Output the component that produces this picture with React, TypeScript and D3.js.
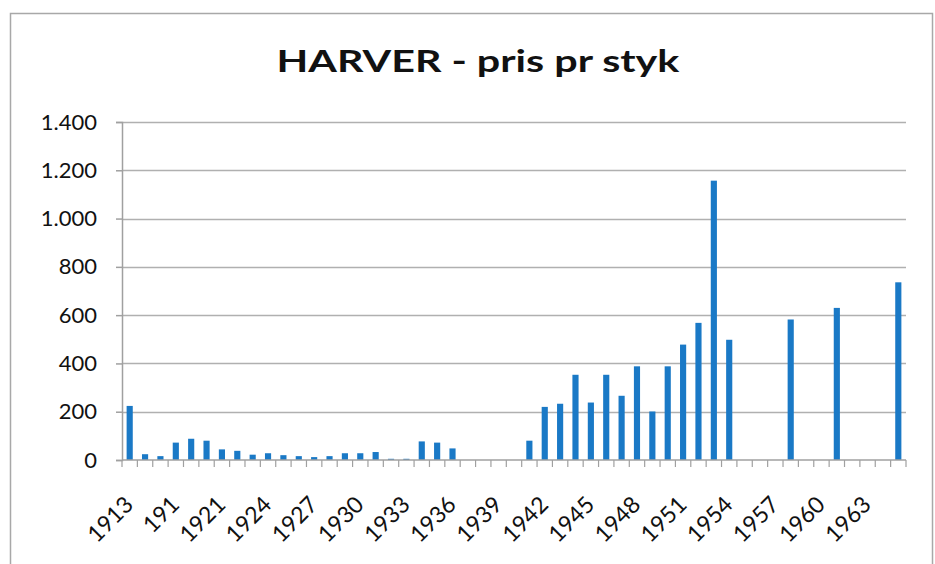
import React, { useEffect, useRef } from "react";
import * as d3 from "d3";

// categories as printed on the axis (only every 3rd label is shown)
const years = [
  "1913", "1914", "1916", "191", "1919", "1920", "1921", "1922", "1923", "1924",
  "1925", "1926", "1927", "1928", "1929", "1930", "1931", "1932", "1933", "1934",
  "1935", "1936", "1937", "1938", "1939", "1940", "1941", "1942", "1943", "1944",
  "1945", "1946", "1947", "1948", "1949", "1950", "1951", "1952", "1953", "1954",
  "1955", "1956", "1957", "1958", "1959", "1960", "1961", "1962", "1963", "1964",
  "1965",
];

// price per piece
const prices = [
  224, 24, 16, 72, 88, 80, 44, 38, 22, 28,
  20, 16, 12, 16, 28, 28, 33, 5, 5, 77,
  72, 48, 0, 0, 0, 0, 80, 220, 233, 353,
  238, 353, 266, 388, 201, 388, 478, 568, 1157, 498,
  0, 0, 0, 582, 0, 0, 630, 0, 0, 0,
  736,
];

const yTicks = [0, 200, 400, 600, 800, 1000, 1200, 1400];

const chartTitle = "HARVER - pris pr styk";

function App() {
  const svgRef = useRef<SVGSVGElement>(null);

  useEffect(() => {
    const svg = d3.select(svgRef.current);
    svg.selectAll("*").remove();

    const width = 935;
    const height = 564;
    const margin = { top: 122, right: 29, bottom: 104, left: 122 };
    const font = "Lato, 'Open Sans', sans-serif";

    // outer chart frame
    svg
      .append("rect")
      .attr("x", 10.5)
      .attr("y", 13.5)
      .attr("width", 922)
      .attr("height", 600)
      .attr("fill", "#fff")
      .attr("stroke", "#a8a8a8")
      .attr("stroke-width", 1.5);

    const x = d3
      .scaleBand()
      .domain(years)
      .range([margin.left, width - margin.right])
      .paddingInner(0.6)
      .paddingOuter(0.3);

    const y = d3
      .scaleLinear()
      .domain([0, 1400])
      .range([height - margin.bottom, margin.top]);

    const fmt = (v: number) => d3.format(",")(v).replace(/,/g, ".");

    // gridlines
    svg
      .append("g")
      .selectAll("line")
      .data(yTicks.slice(1))
      .join("line")
      .attr("x1", margin.left)
      .attr("x2", width - margin.right)
      .attr("y1", (d) => Math.round(y(d)) + 0.5)
      .attr("y2", (d) => Math.round(y(d)) + 0.5)
      .attr("stroke", "#b0b0b0")
      .attr("stroke-width", 1.5);

    // bars
    svg
      .append("g")
      .selectAll("rect")
      .data(prices)
      .join("rect")
      .attr("x", (d, i) => x(years[i])!)
      .attr("y", (d) => y(d))
      .attr("width", x.bandwidth())
      .attr("height", (d) => y(0) - y(d))
      .attr("fill", "#1a79c6");

    // y axis
    const yAxis = svg
      .append("g")
      .attr("transform", `translate(${margin.left},0)`)
      .call(d3.axisLeft(y).tickValues(yTicks).tickSize(6).tickFormat((d) => fmt(+d)));
    yAxis.select(".domain").attr("stroke", "#a0a0a0").attr("stroke-width", 1.5);
    yAxis.selectAll(".tick line").attr("stroke", "#a0a0a0").attr("stroke-width", 1.5);
    yAxis
      .selectAll(".tick text")
      .attr("x", -25)
      .attr("fill", "#111")
      .style("font-family", font)
      .style("font-size", "22px");

    // x axis line with ticks on category boundaries
    const plotW = width - margin.right - margin.left;
    svg
      .append("line")
      .attr("x1", margin.left)
      .attr("x2", width - margin.right)
      .attr("y1", y(0))
      .attr("y2", y(0))
      .attr("stroke", "#a0a0a0")
      .attr("stroke-width", 1.5);
    svg
      .append("g")
      .selectAll("line")
      .data(d3.range(years.length + 1))
      .join("line")
      .attr("x1", (i) => margin.left + (i * plotW) / years.length)
      .attr("x2", (i) => margin.left + (i * plotW) / years.length)
      .attr("y1", y(0))
      .attr("y2", y(0) + 7)
      .attr("stroke", "#a0a0a0")
      .attr("stroke-width", 1.2);

    // rotated x labels, every third category
    svg
      .append("g")
      .selectAll("text")
      .data(years.filter((d, i) => i % 3 === 0))
      .join("text")
      .attr("transform", (d) => {
        const cx = x(d)! + x.bandwidth() / 2 + 5;
        return `translate(${cx},${y(0) + 46}) rotate(-45)`;
      })
      .attr("text-anchor", "end")
      .attr("fill", "#111")
      .style("font-family", font)
      .style("font-size", "23px")
      .text((d) => d);

    // title, stretched horizontally like the scanned original
    const title = svg
      .append("text")
      .attr("text-anchor", "middle")
      .attr("fill", "#111")
      .style("font-family", font)
      .style("font-weight", "bold")
      .style("font-size", "30px")
      .text(chartTitle);
    const tw = (title.node() as SVGTextElement).getComputedTextLength();
    const sx = tw > 0 ? 403 / tw : 1;
    title.attr("transform", `translate(478,72) scale(${sx},1)`);
  }, []);

  return (
    <svg
      ref={svgRef}
      width={935}
      height={564}
      style={{ position: "absolute", left: 0, top: 0, background: "#fff" }}
    ></svg>
  );
}

export default App;
